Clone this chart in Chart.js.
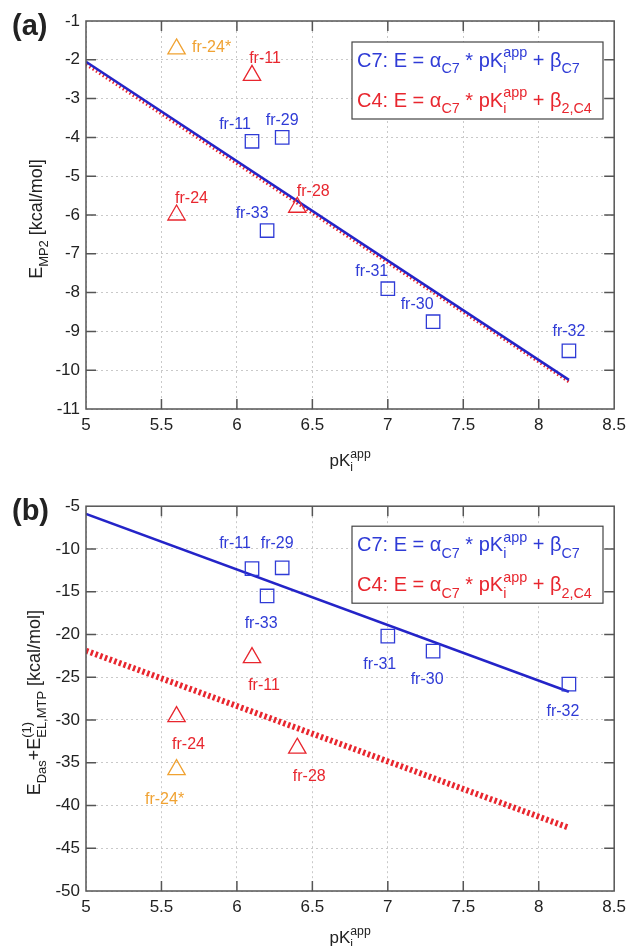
<!DOCTYPE html>
<html>
<head>
<meta charset="utf-8">
<script src="https://cdn.jsdelivr.net/npm/chart.js@4.4.1/dist/chart.umd.min.js"></script>
<style>
	body { margin: 0; background: #fff; }
	#wrap { position: relative; width: 632px; height: 946px; overflow: hidden; }
	canvas { position: absolute; left: 0; }
</style>
</head>
<body>
<div id="wrap">
	<canvas id="chartA" width="632" height="490" style="top:0"></canvas>
	<canvas id="chartB" width="632" height="456" style="top:490px"></canvas>
</div>
<script>
// ---- data ----
const xTicks = [5, 5.5, 6, 6.5, 7, 7.5, 8, 8.5];
const yTicksA = [-11, -10, -9, -8, -7, -6, -5, -4, -3, -2, -1];
const yTicksB = [-50, -45, -40, -35, -30, -25, -20, -15, -10, -5];

const c7Names = ["fr-11", "fr-29", "fr-33", "fr-31", "fr-30", "fr-32"];
const pkC7 = [6.1, 6.3, 6.2, 7.0, 7.3, 8.2];
const c4Names = ["fr-11", "fr-24", "fr-28"];
const pkC4 = [6.1, 5.6, 6.4];
const starNames = ["fr-24*"];
const pkStar = [5.6];
const fitX = [5, 8.2];

// (a) E_MP2
const mp2C7 = [-4.1, -4.0, -6.4, -7.9, -8.75, -9.5];
const mp2C4 = [-2.4, -6.0, -5.8];
const mp2Star = [-1.72];
const mp2FitC7 = [-2.05, -10.25];
const mp2FitC4 = [-2.12, -10.3];

// (b) E_Das + E(1)_EL,MTP
const dasC7 = [-12.3, -12.2, -15.5, -20.2, -21.95, -25.8];
const dasC4 = [-22.7, -29.6, -33.3];
const dasStar = [-35.8];
const dasFitC7 = [-5.9, -26.7];
const dasFitC4 = [-21.9, -42.6];

// label offsets (px) from each marker
const offA_C7 = [[-17, -17], [0, -17], [-15, -17], [-16, -17], [-16, -17], [0, -19]];
const offA_C4 = [[13, -17], [15, -16], [16, -16]];
const offA_Star = [[35, -1]];
const offB_C7 = [[-17, -25], [-5, -24], [-6, 28], [-8, 28], [-6, 28], [-6, 28]];
const offB_C4 = [[12, 28], [12, 28], [12, 28]];
const offB_Star = [[-12, 30]];

const FONT = '"Liberation Sans", Arial, Helvetica, sans-serif';
const BLUE = "#2f3bd6";
const BLUE_LINE = "#2424c8";
const RED = "#e8262e";
const ORANGE = "#f0a232";
const GRID = "#c9c9c9";
const INK = "#222";

Chart.defaults.font.family = FONT;

const pts = (xs, ys) => xs.map((x, i) => ({ x: x, y: ys[i] }));

// text with sub / superscripts: string, [sub] or [sub, sup]
function rich(ctx, parts, x, y, size, draw) {
	let cx = x;
	parts.forEach((p) => {
		if (typeof p === "string") {
			ctx.font = size + "px " + FONT;
			if (draw) ctx.fillText(p, cx, y);
			cx += ctx.measureText(p).width;
		} else {
			const s = size * 0.72;
			ctx.font = s + "px " + FONT;
			let w = ctx.measureText(p[0]).width;
			if (draw) ctx.fillText(p[0], cx, y + size * 0.32);
			if (p[1]) {
				if (draw) ctx.fillText(p[1], cx, y - size * 0.48);
				w = Math.max(w, ctx.measureText(p[1]).width);
			}
			cx += w;
		}
	});
	return cx - x;
}

const framePlugin = {
	id: "frame",
	afterDatasetsDraw(chart) {
		const { ctx, chartArea: a, scales } = chart;
		const x = scales.x, y = scales.y;
		ctx.save();
		ctx.strokeStyle = "#555";
		ctx.lineWidth = 1.5;
		ctx.strokeRect(a.left, a.top, a.right - a.left, a.bottom - a.top);
		ctx.beginPath();
		x.ticks.forEach((t) => {
			const px = x.getPixelForValue(t.value);
			if (px <= a.left + 1 || px >= a.right - 1) return;
			ctx.moveTo(px, a.bottom); ctx.lineTo(px, a.bottom - 10);
			ctx.moveTo(px, a.top); ctx.lineTo(px, a.top + 10);
		});
		y.ticks.forEach((t) => {
			const py = y.getPixelForValue(t.value);
			if (py <= a.top + 1 || py >= a.bottom - 1) return;
			ctx.moveTo(a.left, py); ctx.lineTo(a.left + 10, py);
			ctx.moveTo(a.right, py); ctx.lineTo(a.right - 10, py);
		});
		ctx.stroke();
		ctx.restore();
	},
};

const decoPlugin = {
	id: "deco",
	afterDraw(chart) {
		const { ctx, chartArea: a } = chart;
		const o = chart.options.plugins.deco;
		ctx.save();

		// point labels
		ctx.font = "16px " + FONT;
		ctx.textAlign = "center";
		ctx.textBaseline = "middle";
		chart.data.datasets.forEach((ds, di) => {
			if (!ds.names) return;
			const meta = chart.getDatasetMeta(di);
			meta.data.forEach((el, i) => {
				ctx.fillStyle = ds.labelColor;
				ctx.fillText(ds.names[i], el.x + ds.offsets[i][0], el.y + ds.offsets[i][1]);
			});
		});

		// legend box
		const bx = a.left + 266, by = a.top + o.boxTop, bw = 251, bh = 77;
		ctx.fillStyle = "#fff";
		ctx.fillRect(bx, by, bw, bh);
		ctx.strokeStyle = "#444";
		ctx.lineWidth = 1.2;
		ctx.strokeRect(bx, by, bw, bh);
		ctx.textAlign = "left";
		ctx.textBaseline = "alphabetic";
		ctx.fillStyle = BLUE;
		rich(ctx, ["C7: E = α", ["C7"], " * pK", ["i", "app"], " + β", ["C7"]], bx + 5, by + 25, 20, true);
		ctx.fillStyle = RED;
		rich(ctx, ["C4: E = α", ["C7"], " * pK", ["i", "app"], " + β", ["2,C4"]], bx + 5, by + 65, 20, true);

		// x title
		ctx.fillStyle = INK;
		const xt = ["pK", ["i", "app"]];
		const xw = rich(ctx, xt, 0, 0, 17, false);
		rich(ctx, xt, (a.left + a.right) / 2 - xw / 2, a.bottom + o.xTitle, 17, true);

		// y title
		const yw = rich(ctx, o.yTitle, 0, 0, 18, false);
		ctx.translate(o.yTitleX, (a.top + a.bottom) / 2 + 4);
		ctx.rotate(-Math.PI / 2);
		rich(ctx, o.yTitle, -yw / 2, 0, 18, true);
		ctx.setTransform(1, 0, 0, 1, 0, 0);

		// panel letter
		ctx.font = "bold 29px " + FONT;
		ctx.textBaseline = "middle";
		ctx.fillText(o.letter, 12, a.top + 6);
		ctx.restore();
	},
};

function makePanel(id, p) {
	return new Chart(document.getElementById(id), {
		type: "scatter",
		data: {
			datasets: [
				{ data: pts(fitX, p.fitC7), showLine: true, borderColor: BLUE_LINE, borderWidth: 2.5, pointRadius: 0, order: 1 },
				{ data: pts(fitX, p.fitC4), showLine: true, borderColor: RED, borderWidth: p.redWidth, borderDash: p.redDash, pointRadius: 0, order: 2 },
				{ data: pts(pkC7, p.c7), pointStyle: "rect", pointRadius: 9.5, borderColor: BLUE, backgroundColor: "rgba(0,0,0,0)", borderWidth: 1.3, names: c7Names, offsets: p.offC7, labelColor: BLUE, order: 0 },
				{ data: pts(pkC4, p.c4), pointStyle: "triangle", pointRadius: 10, borderColor: RED, backgroundColor: "rgba(0,0,0,0)", borderWidth: 1.3, names: c4Names, offsets: p.offC4, labelColor: RED, order: 0 },
				{ data: pts(pkStar, p.star), pointStyle: "triangle", pointRadius: 10, borderColor: ORANGE, backgroundColor: "rgba(0,0,0,0)", borderWidth: 1.3, names: starNames, offsets: p.offStar, labelColor: ORANGE, order: 0 },
			],
		},
		options: {
			responsive: false,
			animation: false,
			devicePixelRatio: 1,
			events: [],
			layout: { padding: { top: p.top, right: 13, left: 0, bottom: 0 } },
			plugins: {
				legend: { display: false },
				tooltip: { enabled: false },
				deco: { letter: p.letter, boxTop: p.boxTop, xTitle: p.xTitle, yTitle: p.yTitle, yTitleX: p.yTitleX },
			},
			scales: {
				x: {
					type: "linear",
					min: 5,
					max: 8.5,
					afterBuildTicks: (s) => { s.ticks = xTicks.map((v) => ({ value: v })); },
					afterFit: (s) => { s.height = p.xh; },
					grid: { color: GRID, drawTicks: false },
					border: { display: false, dash: [2, 3] },
					ticks: { padding: 6, color: INK, font: { size: 17 }, maxRotation: 0, callback: (v) => String(v) },
				},
				y: {
					type: "linear",
					min: p.yTicks[0],
					max: p.yTicks[p.yTicks.length - 1],
					afterBuildTicks: (s) => { s.ticks = p.yTicks.map((v) => ({ value: v })); },
					afterFit: (s) => { s.width = 86; },
					grid: { color: GRID, drawTicks: false },
					border: { display: false, dash: [2, 3] },
					ticks: { padding: 6, color: INK, font: { size: 17 }, callback: (v) => String(v) },
				},
			},
		},
		plugins: [framePlugin, decoPlugin],
	});
}

makePanel("chartA", {
	letter: "(a)", top: 21, xh: 81, boxTop: 21, xTitle: 57, yTitleX: 42,
	yTitle: ["E", ["MP2"], " [kcal/mol]"],
	yTicks: yTicksA,
	c7: mp2C7, c4: mp2C4, star: mp2Star, fitC7: mp2FitC7, fitC4: mp2FitC4,
	offC7: offA_C7, offC4: offA_C4, offStar: offA_Star,
	redWidth: 3, redDash: [1.5, 2.5],
});

makePanel("chartB", {
	letter: "(b)", top: 13, xh: 55, boxTop: 20, xTitle: 52, yTitleX: 40,
	yTitle: ["E", ["Das"], "+E", ["EL,MTP", "(1)"], " [kcal/mol]"],
	yTicks: yTicksB,
	c7: dasC7, c4: dasC4, star: dasStar, fitC7: dasFitC7, fitC4: dasFitC4,
	offC7: offB_C7, offC4: offB_C4, offStar: offB_Star,
	redWidth: 6, redDash: [2.5, 2.5],
});
</script>
</body>
</html>
